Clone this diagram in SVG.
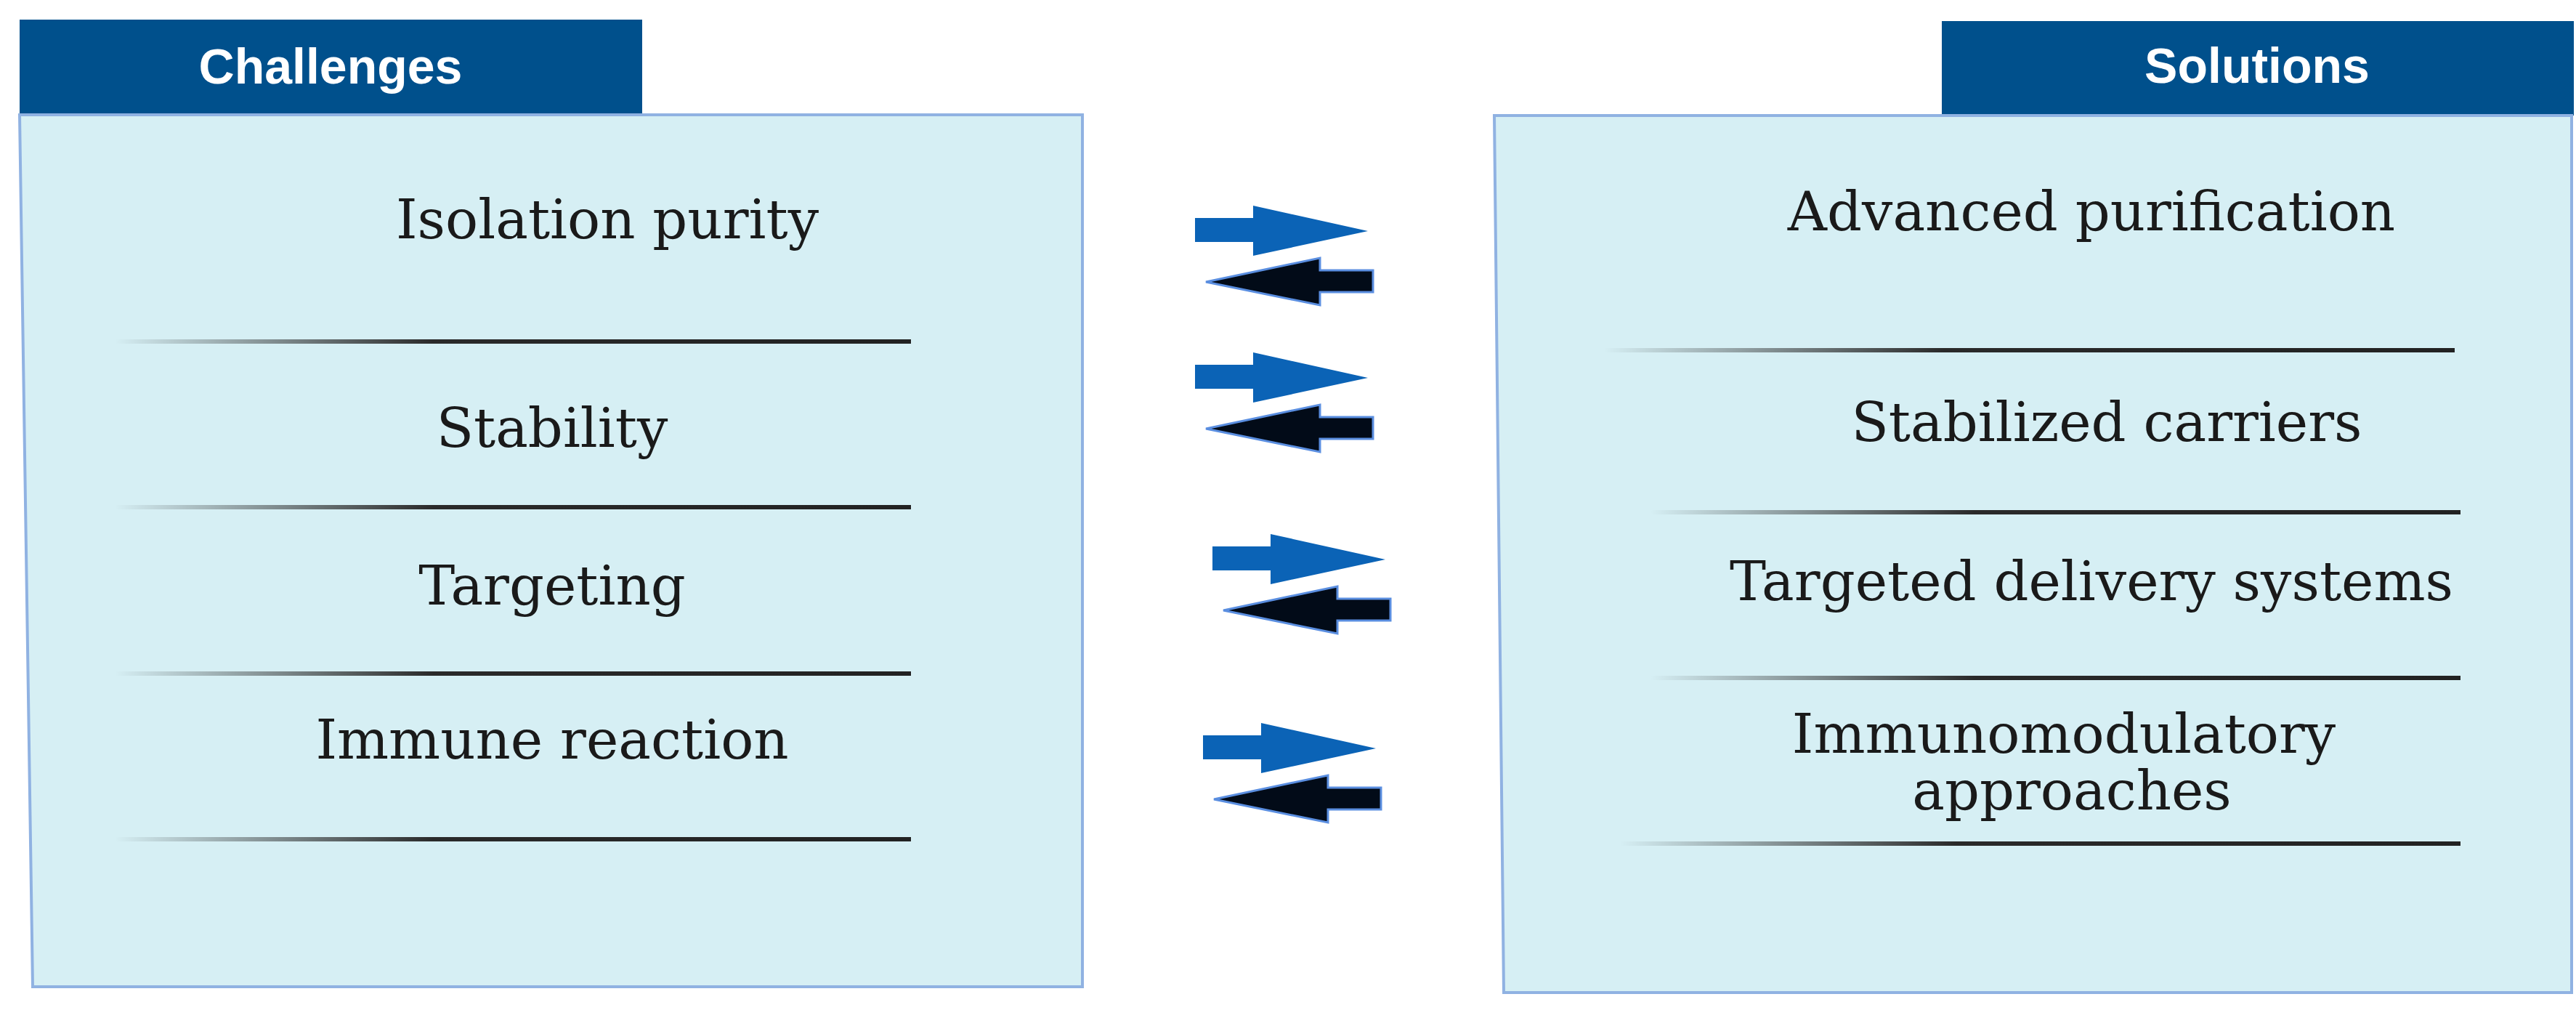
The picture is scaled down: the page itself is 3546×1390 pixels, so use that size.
<svg xmlns="http://www.w3.org/2000/svg" width="3546" height="1390" viewBox="0 0 3546 1390">
<style>
.hdr{fill:#00508c}
.panel{fill:#d6eff4;stroke:#90b2e2;stroke-width:4}
.ht{font-family:"Liberation Sans",Arial,sans-serif;font-weight:bold;font-size:68px;fill:#fff;text-anchor:middle}
.t{font-family:"DejaVu Serif","Liberation Serif",serif;font-size:75px;fill:#1a1a1a;text-anchor:middle}
.sep{fill:url(#g)}
.blue{fill:#0b63b6}
.blk{fill:#020b18;stroke:#5a8ee0;stroke-width:3}
</style>
<defs>
<linearGradient id="g" x1="0" x2="1" y1="0" y2="0"><stop offset="0" stop-color="#2a2a2a" stop-opacity="0"/><stop offset="0.4" stop-color="#2a2a2a"/><stop offset="1" stop-color="#222"/></linearGradient>
<g id="pair">
<path class="blue" d="M1645,300 H1725 V283 L1883,318 L1725,352 V333 H1645Z"/>
<path class="blk" d="M1660,388 L1817,355 V372 H1890 V402 H1817 V420 Z"/>
</g>
</defs>
<g id="challenges">
<rect class="hdr" x="27" y="27" width="857" height="131"/>
<text class="ht" x="455" y="115">Challenges</text>
<path class="panel" d="M27,158 H1490 V1358 H45 Z"/>
<rect class="sep" x="158" y="467" width="1096" height="6"/>
<rect class="sep" x="158" y="695" width="1096" height="6"/>
<rect class="sep" x="158" y="924" width="1096" height="6"/>
<rect class="sep" x="158" y="1152" width="1096" height="6"/>
<text class="t" x="836" y="328">Isolation purity</text>
<text class="t" x="760" y="615">Stability</text>
<text class="t" x="760" y="832">Targeting</text>
<text class="t" x="760" y="1044">Immune reaction</text>
</g>
<g id="solutions">
<rect class="hdr" x="2673" y="29" width="870" height="130"/>
<text class="ht" x="3107" y="114">Solutions</text>
<path class="panel" d="M2057,159 H3540 V1366 H2070 Z"/>
<rect class="sep" x="2208" y="479" width="1171" height="6"/>
<rect class="sep" x="2272" y="702" width="1115" height="6"/>
<rect class="sep" x="2272" y="930" width="1115" height="6"/>
<rect class="sep" x="2230" y="1158" width="1157" height="6"/>
<text class="t" x="2879" y="317">Advanced purification</text>
<text class="t" x="2900" y="607">Stabilized carriers</text>
<text class="t" x="2879" y="826">Targeted delivery systems</text>
<text class="t" x="2841" y="1036">Immunomodulatory</text>
<text class="t" x="2852" y="1114">approaches</text>
</g>
<g id="connectors">
<use href="#pair"/>
<use href="#pair" transform="translate(0,202)"/>
<use href="#pair" transform="translate(24,452)"/>
<use href="#pair" transform="translate(11,712)"/>
</g>
</svg>
